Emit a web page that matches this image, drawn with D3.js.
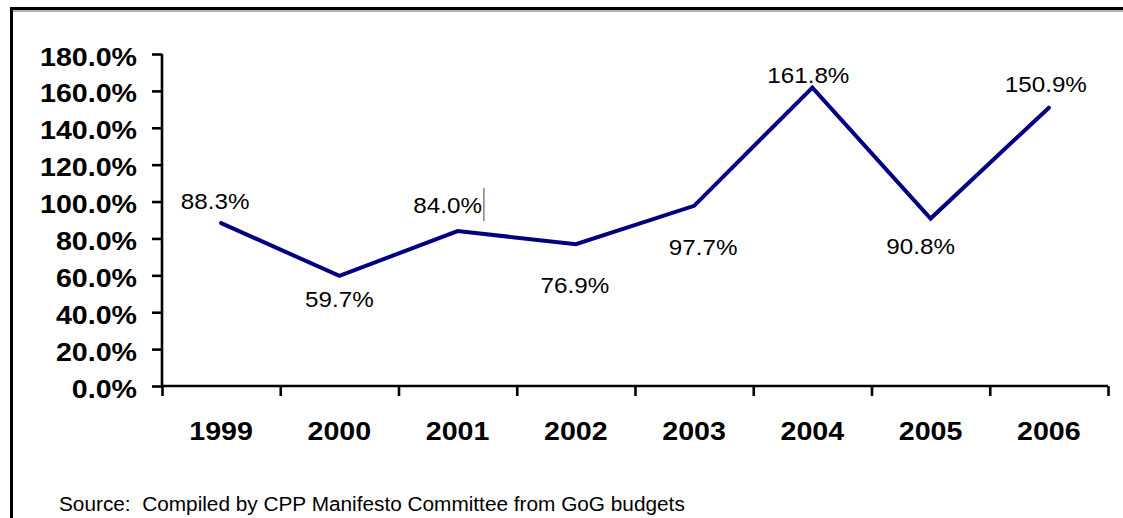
<!DOCTYPE html>
<html>
<head>
<meta charset="utf-8">
<script src="https://cdn.jsdelivr.net/npm/d3@7"></script>
<style>
  html, body { margin: 0; padding: 0; background: #fff; }
  svg { display: block; }
  text { font-family: "Liberation Sans", Arial, sans-serif; fill: #000; }
</style>
</head>
<body>
<svg id="chart" width="1123" height="518"></svg>
<script>
// Annual rate, per year
const years = ["1999", "2000", "2001", "2002", "2003", "2004", "2005", "2006"];
const rates = [88.3, 59.7, 84.0, 76.9, 97.7, 161.8, 90.8, 150.9];
const yTicks = [0, 20, 40, 60, 80, 100, 120, 140, 160, 180];
const sourceNote = "Source:  Compiled by CPP Manifesto Committee from GoG budgets";

// Where each value label sits relative to its point: [dx, dy to baseline]
const labelOffsets = [[-6, -14], [0, 31], [-10, -18], [-1, 49], [9, 49], [-4, -5], [-10, 35], [-3, -16]];

const svg = d3.select("#chart");
const stretchX = 1.1;

// widen text horizontally around its own anchor
function widen(sel, k) {
  sel.each(function () {
    const t = d3.select(this);
    const x = +t.attr("x") || 0;
    t.attr("transform", `translate(${x * (1 - k)},0) scale(${k},1)`);
  });
}

// Frame: heavy rule along the top and down the left side
svg.append("line").attr("x1", 10).attr("x2", 1123).attr("y1", 11).attr("y2", 11)
  .attr("stroke", "#999").attr("stroke-width", 1.5);
svg.append("line").attr("x1", 10).attr("x2", 1123).attr("y1", 8.5).attr("y2", 8.5)
  .attr("stroke", "#000").attr("stroke-width", 3);
svg.append("line").attr("x1", 11.5).attr("x2", 11.5).attr("y1", 7).attr("y2", 518)
  .attr("stroke", "#000").attr("stroke-width", 3);

const x = d3.scaleBand().domain(years).range([162, 1108]);
const xi = d3.scaleLinear().domain([0, years.length]).range(x.range());
const y = d3.scaleLinear().domain([0, 180]).range([386, 54]);

// Y axis
const gy = svg.append("g").attr("transform", `translate(${x.range()[0]},0)`)
  .call(d3.axisLeft(y).tickValues(yTicks).tickSize(10).tickPadding(15)
    .tickFormat(d => d.toFixed(1) + "%"));
gy.selectAll("path, line").attr("stroke", "#000").attr("stroke-width", 2.6);
gy.select("path").attr("d", `M0,${y(180)}V${y(0)}`);
gy.selectAll("text")
  .attr("font-family", "'Liberation Sans', Arial, sans-serif")
  .attr("font-size", 26).attr("font-weight", "bold").attr("fill", "#000")
  .attr("dy", null).attr("y", 11);
widen(gy.selectAll("text"), stretchX);

// X axis: boundary ticks between categories
const gx = svg.append("g").attr("transform", `translate(0,${y(0)})`)
  .call(d3.axisBottom(xi).tickValues(d3.range(years.length + 1)).tickSize(10).tickFormat(""));
gx.selectAll("path, line").attr("stroke", "#000").attr("stroke-width", 2.6);
gx.select("path").attr("d", `M${x.range()[0]},0H${x.range()[1]}`);

// Category labels
const yearLabels = svg.append("g").selectAll("text").data(years).join("text")
  .attr("x", d => x(d) + x.bandwidth() / 2)
  .attr("y", 440)
  .attr("text-anchor", "middle")
  .attr("font-size", 26).attr("font-weight", "bold")
  .text(d => d);
widen(yearLabels, stretchX);

// Series line
const pts = years.map((yr, i) => ({ yr, v: rates[i], i }));
const line = d3.line().x(d => x(d.yr) + x.bandwidth() / 2).y(d => y(d.v));
svg.append("path").datum(pts)
  .attr("d", line)
  .attr("fill", "none")
  .attr("stroke", "#000080")
  .attr("stroke-width", 4)
  .attr("stroke-linejoin", "miter")
  .attr("stroke-linecap", "round");

// Value labels
const valueLabels = svg.append("g").selectAll("text").data(pts).join("text")
  .attr("x", d => x(d.yr) + x.bandwidth() / 2 + labelOffsets[d.i][0])
  .attr("y", d => y(d.v) + labelOffsets[d.i][1])
  .attr("text-anchor", "middle")
  .attr("font-size", 22)
  .attr("fill", "#111")
  .text(d => d.v.toFixed(1) + "%");
widen(valueLabels, stretchX);

// Thin caret mark trailing the 2001 label
valueLabels.filter(d => d.yr === "2001").each(function (d) {
  const b = this.getBBox();
  const cx = x(d.yr) + x.bandwidth() / 2 + labelOffsets[d.i][0];
  const edge = cx + (b.width * stretchX) / 2 + 2;
  const base = y(d.v) + labelOffsets[d.i][1];
  svg.append("line")
    .attr("x1", edge).attr("x2", edge)
    .attr("y1", base - 25).attr("y2", base + 8)
    .attr("stroke", "#444").attr("stroke-width", 1);
});

// Source note
const note = svg.append("text")
  .attr("x", 59).attr("y", 511)
  .attr("font-size", 20).attr("fill", "#111")
  .style("white-space", "pre")
  .text(sourceNote);
widen(note, 1.04);
</script>
</body>
</html>
